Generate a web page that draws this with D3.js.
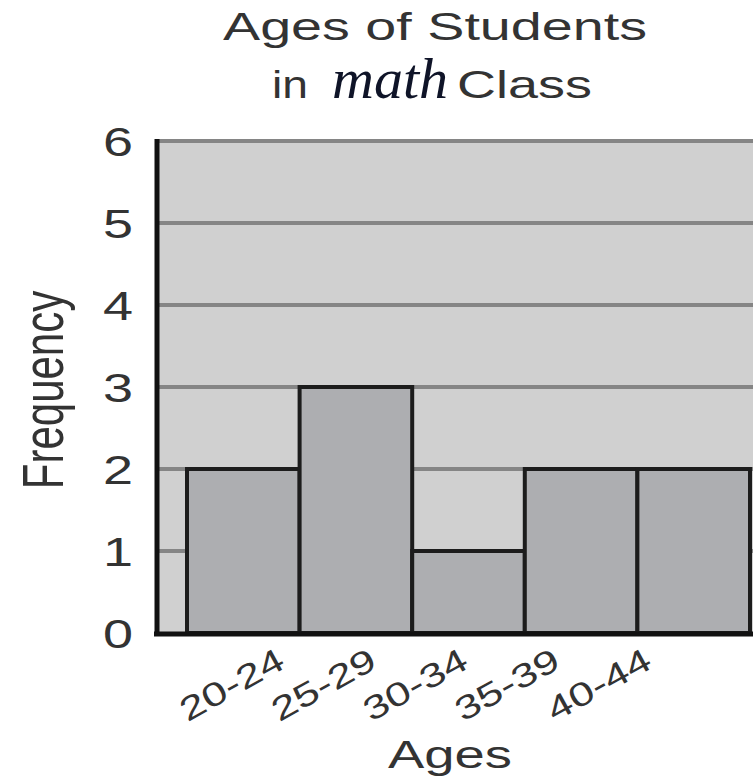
<!DOCTYPE html>
<html>
<head>
<meta charset="utf-8">
<script src="https://cdn.jsdelivr.net/npm/d3@7"></script>
<style>
  html, body { margin: 0; padding: 0; background: #fff; }
  svg { display: block; }
</style>
</head>
<body>
<svg id="chart" width="753" height="777"></svg>
<script>
// ---- data ----
const categories = ["20-24", "25-29", "30-34", "35-39", "40-44"];
const frequencies = [2, 3, 1, 2, 2];
const yTicks = [0, 1, 2, 3, 4, 5, 6];
const titleLine1 = "Ages of Students";
const titleLine2 = ["in", "math", "Class"];
const xTitle = "Ages";
const yTitle = "Frequency";

// ---- layout ----
const plot = { left: 157, right: 760, top: 141, bottom: 633 };
const SX = 1.35; // horizontal stretch of the reference's lettering
const SANS = "'Liberation Sans', Arial, sans-serif";
const TXT = "#333";

const svg = d3.select("#chart");

const y = d3.scaleLinear().domain([0, 6]).range([plot.bottom, plot.top]);
const x = d3.scaleBand().domain(categories).range([187, 750]).padding(0);
const xLab = d3.scalePoint().domain(categories).range([287, 654]);

// plot background
svg.append("rect")
  .attr("x", plot.left).attr("y", plot.top)
  .attr("width", plot.right - plot.left).attr("height", plot.bottom - plot.top)
  .attr("fill", "#d0d0d0");

// gridlines
svg.append("g").selectAll("line")
  .data(yTicks.filter(d => d > 0))
  .join("line")
  .attr("x1", plot.left).attr("x2", plot.right)
  .attr("y1", d => y(d)).attr("y2", d => y(d))
  .attr("stroke", "#858585").attr("stroke-width", 4);

// bars
svg.append("g").selectAll("rect")
  .data(categories.map((c, i) => ({ c, v: frequencies[i] })))
  .join("rect")
  .attr("x", d => x(d.c))
  .attr("y", d => y(d.v))
  .attr("width", x.bandwidth())
  .attr("height", d => y(0) - y(d.v))
  .attr("fill", "#adaeb1")
  .attr("stroke", "#1c1c1c")
  .attr("stroke-width", 4);

// axes lines
svg.append("line")
  .attr("x1", plot.left).attr("x2", plot.left)
  .attr("y1", plot.top - 2).attr("y2", plot.bottom + 3)
  .attr("stroke", "#111").attr("stroke-width", 5);
svg.append("line")
  .attr("x1", plot.left - 3).attr("x2", plot.right)
  .attr("y1", plot.bottom + 1).attr("y2", plot.bottom + 1)
  .attr("stroke", "#111").attr("stroke-width", 5);

// y tick labels
svg.append("g").selectAll("text")
  .data(yTicks)
  .join("text")
  .attr("transform", d => `translate(133,${y(d) + 1}) scale(${SX},1)`)
  .attr("text-anchor", "end")
  .attr("dominant-baseline", "central")
  .style("font-family", SANS).style("fill", TXT)
  .attr("font-size", 40)
  .text(d => d);

// x tick labels (rotated, stretched along the baseline)
svg.append("g").selectAll("text")
  .data(categories)
  .join("text")
  .attr("transform", d => `translate(${xLab(d)},667) rotate(-29) scale(${SX},1)`)
  .attr("text-anchor", "end")
  .style("font-family", SANS).style("fill", TXT)
  .attr("font-size", 33)
  .text(d => d);

// axis titles
svg.append("text")
  .attr("x", 388).attr("y", 768)
  .attr("textLength", 124).attr("lengthAdjust", "spacingAndGlyphs")
  .style("font-family", SANS).style("fill", TXT)
  .attr("font-size", 39)
  .text(xTitle);

svg.append("text")
  .attr("transform", `translate(63,390) scale(${SX},1) rotate(-90)`)
  .attr("text-anchor", "middle")
  .style("font-family", SANS).style("fill", TXT)
  .attr("font-size", 42)
  .text(yTitle);

// title
svg.append("text")
  .attr("x", 223).attr("y", 40)
  .attr("textLength", 424).attr("lengthAdjust", "spacingAndGlyphs")
  .style("font-family", SANS).style("fill", TXT)
  .attr("font-size", 38)
  .text(titleLine1);

svg.append("text")
  .attr("x", 272).attr("y", 98)
  .attr("textLength", 36).attr("lengthAdjust", "spacingAndGlyphs")
  .style("font-family", SANS).style("fill", TXT)
  .attr("font-size", 39)
  .text(titleLine2[0]);

svg.append("text")
  .attr("x", 332).attr("y", 98)
  .attr("textLength", 116).attr("lengthAdjust", "spacingAndGlyphs")
  .style("font-family", "'Liberation Serif', 'DejaVu Serif', serif")
  .style("font-style", "italic")
  .style("fill", "#0f1428")
  .attr("font-size", 56)
  .text(titleLine2[1]);

svg.append("text")
  .attr("x", 457).attr("y", 98)
  .attr("textLength", 135).attr("lengthAdjust", "spacingAndGlyphs")
  .style("font-family", SANS).style("fill", TXT)
  .attr("font-size", 39)
  .text(titleLine2[2]);
</script>
</body>
</html>
